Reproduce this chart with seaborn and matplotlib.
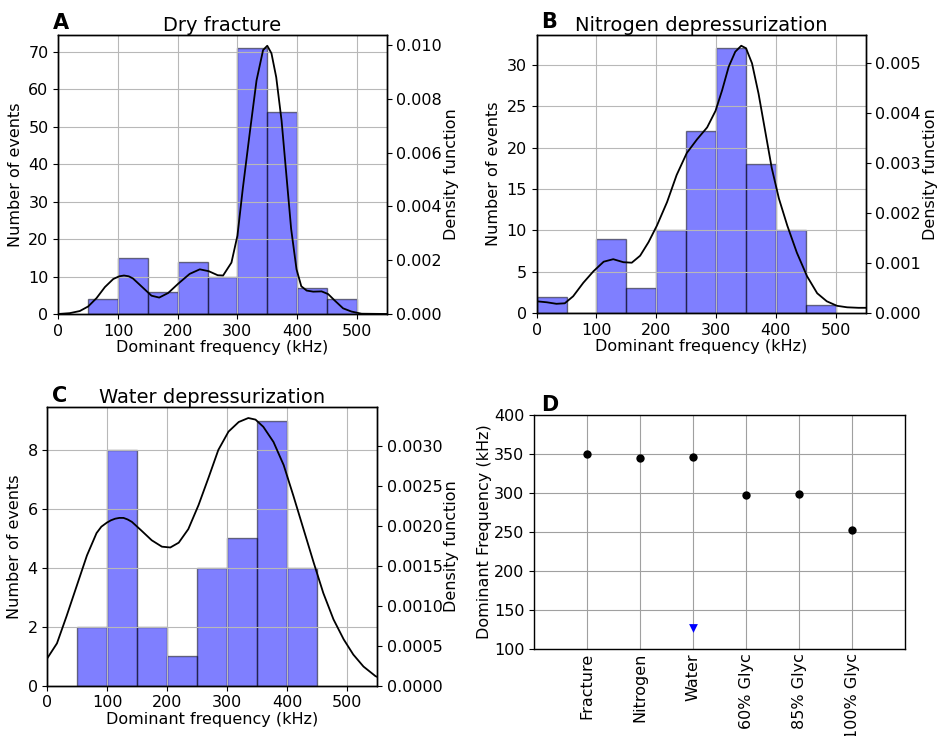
import numpy as np
import matplotlib
matplotlib.use("Agg")
import matplotlib.pyplot as plt
import seaborn as sns

# === Histogram data (bin edges in kHz, counts per bin) ===
dry_edges = [50, 100, 150, 200, 250, 300, 350, 400, 450, 500]
dry_counts = [4, 15, 6, 14, 10, 71, 54, 7, 4]

nit_edges = [0, 50, 100, 150, 200, 250, 300, 350, 400, 450, 500]
nit_counts = [2, 0, 9, 3, 10, 22, 32, 18, 10, 1]

wat_edges = [50, 100, 150, 200, 250, 300, 350, 400, 450]
wat_counts = [2, 8, 2, 1, 4, 5, 9, 4]

# === Density curves ===
dry_kde_f = [0, 19, 36, 50, 64, 78, 92, 102, 110, 118, 125, 142, 156, 169, 184,
             201, 220, 237, 252, 267, 276, 290, 300, 309, 321, 332, 343, 350,
             357, 365, 374, 382, 390, 399, 407, 416, 427, 441, 452, 463, 477,
             491, 508, 550]
dry_kde_d = [0.0, 0.00003, 0.00011, 0.00028, 0.00059, 0.00100, 0.00130, 0.00140,
             0.00143, 0.00140, 0.00132, 0.00097, 0.00068, 0.00061, 0.00078,
             0.00113, 0.00149, 0.00166, 0.00159, 0.00144, 0.00143, 0.00191,
             0.00291, 0.00466, 0.00679, 0.00868, 0.00981, 0.00997, 0.00969,
             0.00880, 0.00718, 0.00517, 0.00316, 0.00166, 0.00103, 0.00087,
             0.00083, 0.00084, 0.00074, 0.00050, 0.00021, 0.00009, 0.00001, 0.0]

nit_kde_f = [0, 17, 33, 47, 61, 78, 95, 112, 128, 145, 159, 173, 187, 201, 218,
             234, 251, 268, 285, 299, 310, 321, 332, 342, 350, 360, 371, 382,
             393, 405, 419, 435, 452, 469, 485, 502, 519, 538, 550]
nit_kde_d = [0.00024, 0.00022, 0.00019, 0.00020, 0.00034, 0.00061, 0.00084,
             0.00103, 0.00108, 0.00102, 0.00101, 0.00115, 0.00142, 0.00175,
             0.00222, 0.00276, 0.00320, 0.00347, 0.00371, 0.00404, 0.00445,
             0.00492, 0.00522, 0.00534, 0.00529, 0.00499, 0.00438, 0.00364,
             0.00290, 0.00229, 0.00175, 0.00121, 0.00074, 0.00040, 0.00024,
             0.00015, 0.00012, 0.00011, 0.00011]

wat_kde_f = [0, 16, 32, 49, 66, 82, 90, 99, 106, 113, 120, 127, 134, 141, 157,
             174, 191, 205, 219, 235, 252, 269, 285, 302, 319, 335, 347, 360,
             377, 394, 410, 427, 444, 460, 477, 494, 510, 527, 547, 550]
wat_kde_d = [0.000345, 0.00053, 0.00087, 0.00125, 0.00163, 0.00191, 0.00199,
             0.00204, 0.00207, 0.00209, 0.00210, 0.00210, 0.00208, 0.00205,
             0.00194, 0.00182, 0.00174, 0.00173, 0.00179, 0.00196, 0.00226,
             0.00261, 0.00295, 0.00318, 0.00330, 0.00335, 0.00333, 0.00324,
             0.00305, 0.00276, 0.00238, 0.00196, 0.00154, 0.00116, 0.00083,
             0.00058, 0.00039, 0.00024, 0.00012, 0.00011]

# === Panel D ===
cases = ["Fracture", "Nitrogen", "Water", "60% Glyc", "85% Glyc", "100% Glyc"]
dom_freq = [350, 345, 346, 297, 299, 253]
low_case = ["Water"]
low_freq = [126]

FS = 11.5
plt.rcParams["font.family"] = "DejaVu Sans"
plt.rcParams["font.size"] = FS

fig = plt.figure(figsize=(9.47, 7.36), dpi=100)


def hist_panel(rect, edges, counts, kde_f, kde_d, title):
    ax = fig.add_axes(rect)
    centers = [(a + b) / 2 for a, b in zip(edges[:-1], edges[1:])]
    sns.histplot(x=centers, weights=counts, bins=edges, ax=ax, color="blue",
                 alpha=0.5, edgecolor=(0, 0, 0, 0.5), linewidth=1)
    ax.set_xlim(0, 550)
    ax.set_ylim(0, max(counts) * 1.05)
    ax.set_xticks([0, 100, 200, 300, 400, 500])
    ax.grid(True, color="#b8b8b8", linewidth=0.8)
    ax.set_xlabel("Dominant frequency (kHz)", fontsize=FS, labelpad=1)
    ax.set_ylabel("Number of events", fontsize=FS)
    ax.set_title(title, fontsize=14, pad=3)
    ax.tick_params(labelsize=FS)

    ax2 = ax.twinx()
    sns.lineplot(x=kde_f, y=kde_d, ax=ax2, color="k", linewidth=1.3)
    for ln in ax2.lines:
        ln.set_solid_joinstyle("round")
    ax2.set_ylim(0, max(kde_d) * 1.04)
    ax2.set_xlim(0, 550)
    ax2.set_ylabel("Density function", fontsize=FS, labelpad=1)
    ax2.tick_params(labelsize=FS)
    for a in (ax, ax2):
        for s in a.spines.values():
            s.set_color("k")
            s.set_linewidth(1.0)
    return ax, ax2


hist_panel([0.0616, 0.5734, 0.3467, 0.3790], dry_edges, dry_counts,
           dry_kde_f, dry_kde_d, "Dry fracture")
hist_panel([0.5667, 0.5743, 0.3474, 0.3781], nit_edges, nit_counts,
           nit_kde_f, nit_kde_d, "Nitrogen depressurization")
hist_panel([0.0500, 0.0683, 0.3484, 0.3783], wat_edges, wat_counts,
           wat_kde_f, wat_kde_d, "Water depressurization")

# panel D
axd = fig.add_axes([0.5639, 0.1186, 0.3918, 0.3175])
pos = np.arange(1, len(cases) + 1)
sns.scatterplot(x=pos, y=dom_freq, ax=axd, color="k", s=36, edgecolor="k",
                linewidth=0, zorder=3)
low_pos = [cases.index(c) + 1 for c in low_case]
sns.scatterplot(x=low_pos, y=low_freq, ax=axd, color="blue", marker="v", s=40,
                edgecolor="blue", linewidth=0, zorder=3)
axd.set_xlim(0, len(cases) + 1)
axd.set_ylim(100, 400)
axd.set_yticks(range(100, 401, 50))
axd.set_xticks(pos)
axd.set_xticklabels(cases, rotation=90, fontsize=FS)
axd.grid(True, color="#a0a0a0", linewidth=0.8)
axd.axvline(0, color="#a0a0a0", linewidth=0.8)
axd.set_ylabel("Dominant Frequency (kHz)", fontsize=FS, labelpad=1)
axd.tick_params(labelsize=FS)
axd.tick_params(axis="x", length=0, pad=3)
for s in axd.spines.values():
    s.set_color("k")
    s.set_linewidth(1.0)

# panel letters
for x, y, t in [(0.056, 0.9606, "A"), (0.5713, 0.9620, "B"),
                (0.0549, 0.4538, "C"), (0.5713, 0.4416, "D")]:
    fig.text(x, y, t, fontsize=15, fontweight="bold", va="baseline")

fig.savefig("out.png", dpi=100)
